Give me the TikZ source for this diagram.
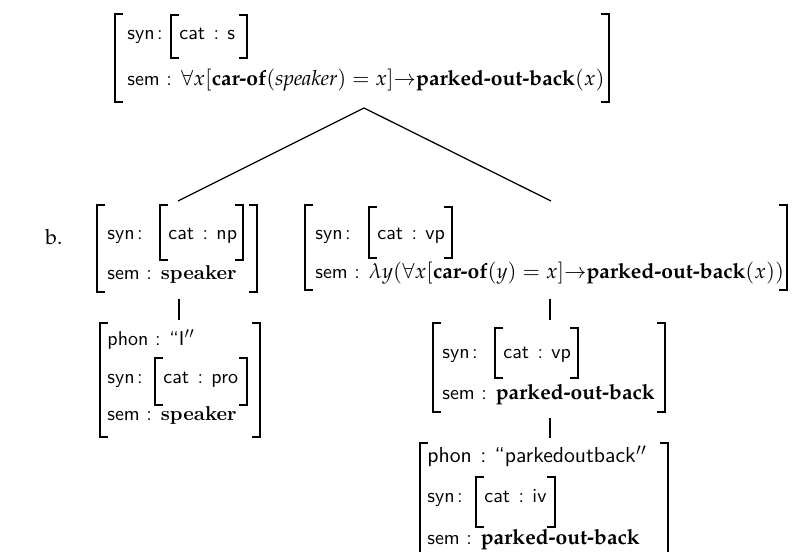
\documentclass[tikz,border=0pt]{standalone}
\usepackage{mathpazo}
% Palatino text faces (legacy encoding) and Latin Modern bold
\newcommand\palbf[1]{{\fontencoding{OT1}\fontfamily{ppl}\fontseries{b}\fontsize{10}{12}\selectfont #1}}
\newcommand\palit[1]{{\fontencoding{OT1}\fontfamily{ppl}\fontshape{it}\fontsize{10}{12}\selectfont #1}}
\newcommand\palrm[1]{{\fontencoding{OT1}\fontfamily{ppl}\fontsize{10}{12}\selectfont #1}}
\newcommand\lmbf[1]{{\fontencoding{TU}\fontfamily{lmr}\fontseries{bx}\selectfont #1}}
\newcommand\mth[1]{{\fontsize{10}{12}\selectfont #1}}
% feature name followed by a tight colon
\newcommand\feat[1]{#1\hspace{1.2pt}:}
% feature-value pair inside a nested AVM
\newcommand\fv[2]{#1\hspace{4pt}:\hspace{4pt}#2}
% outer AVM brackets: x, top, bottom
\newcommand\avmL[3]{\draw[brk] (#1,#2) +(8,0) -- (#1,#2) -- (#1,#3) -- +(8,0);}
\newcommand\avmR[3]{\draw[brk] (#1,#2) +(-8,0) -- (#1,#2) -- (#1,#3) -- +(-8,0);}
% a nested AVM: name, left x, right x, top, bottom, baseline, content
\newcommand\nestavm[7]{%
  \avmL{#2}{#4}{#5}\avmR{#3}{#4}{#5}
  \node[lbl] (#1) at (#2+8,#6) {#7};}
\begin{document}
\begin{tikzpicture}[x=0.4755pt,y=-0.4755pt,
  brk/.style={line width=0.6pt},
  branch/.style={line width=0.6pt},
  lbl/.style={anchor=base west,inner sep=0pt,font=\fontsize{9.5}{11}\sffamily}]
\useasboundingbox (0,0) rectangle (795,552);
\clip (0,0) rectangle (795,552);

% ---- root: S
\avmL{115}{14}{102}\avmR{609}{14}{102}
\node[lbl] (T-syn) at (127,40) {\feat{syn}};
\nestavm{T-cat}{171}{247}{15}{58}{40}{\fv{cat}{s}}
\node[lbl] (T-sem) at (127,86) {sem : \mth{$\forall x[$\palbf{car-of}$($\palit{speaker}$) = x]{\rightarrow}$\palbf{parked-out-back}$(x)$}};
\coordinate (T-foot) at (364,108);

% ---- example label
\node[anchor=base west,inner sep=0pt] (ex) at (45,245) {\palrm{b.}};

% ---- left daughter: NP
\avmL{97}{205}{292}\avmR{257}{205}{292}
\node[lbl] (L-syn) at (107,240) {\feat{syn}};
\nestavm{L-cat}{160}{243}{205}{260}{240}{\fv{cat}{np}}
\node[lbl] (L-sem) at (107,280) {sem : \lmbf{speaker}};
\coordinate (L-head) at (178,201);
\coordinate (L-foot) at (179,299);

% ---- right daughter: VP
\avmL{305}{205}{290}\avmR{787}{205}{290}
\node[lbl] (R-syn) at (315,240) {\feat{syn}};
\nestavm{R-cat}{369}{452}{207}{258}{240}{\fv{cat}{vp}}
\node[lbl] (R-sem) at (315,279) {sem : \mth{$\lambda y(\forall x[$\palbf{car-of}$(y) = x]{\rightarrow}$\palbf{parked-out-back}$(x))$}};
\coordinate (R-head) at (551,201);
\coordinate (R-foot) at (550,299);

% ---- pronoun "I"
\avmL{100}{323}{437}\avmR{260}{323}{437}
\node[lbl] (P-phon) at (107,346) {phon : ``I$''$};
\node[lbl] (P-syn) at (107,384) {\feat{syn}};
\nestavm{P-cat}{155}{247}{358}{405}{384}{\fv{cat}{pro}}
\node[lbl] (P-sem) at (107,421) {sem : \lmbf{speaker}};
\coordinate (P-head) at (179,320);

% ---- VP over IV
\avmL{433}{323}{412}\avmR{665}{323}{412}
\node[lbl] (M-syn) at (442,359) {\feat{syn}};
\nestavm{M-cat}{495}{578}{328}{378}{359}{\fv{cat}{vp}}
\node[lbl] (M-sem) at (442,400) {sem : \palbf{parked-out-back}};
\coordinate (M-head) at (550,320);
\coordinate (M-foot) at (550,418);

% ---- lexical IV
\avmL{420}{443}{580}\avmR{668}{443}{580}
\node[lbl,font=\fontsize{10.3}{12}\sffamily] (B-phon) at (427,463) {\fv{phon}{``parkedoutback$''$}};
\node[lbl] (B-syn) at (427,503) {\feat{syn}};
\nestavm{B-cat}{476}{555}{477}{527}{503}{\fv{cat}{iv}}
\node[lbl] (B-sem) at (427,545) {sem : \palbf{parked-out-back}};
\coordinate (B-head) at (550,438);

% ---- branches
\draw[branch] (L-head) -- (T-foot) -- (R-head);
\draw[branch] (L-foot) -- (P-head);
\draw[branch] (R-foot) -- (M-head);
\draw[branch] (M-foot) -- (B-head);
\end{tikzpicture}
\end{document}
